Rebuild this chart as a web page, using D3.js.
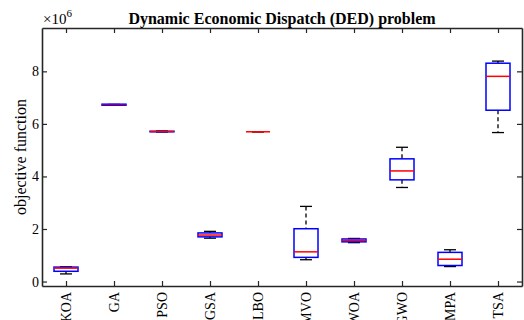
<!DOCTYPE html>
<html>
<head>
<meta charset="utf-8">
<script src="https://cdn.jsdelivr.net/npm/d3@7"></script>
<style>
  body { margin: 0; background: #fff; }
  svg { display: block; }
  text { font-family: "Liberation Serif", "DejaVu Serif", serif; fill: #000; }
</style>
</head>
<body>
<svg id="chart" width="524" height="320"></svg>
<script>
// algorithms on the x axis
var methods = ["KOA", "GA", "PSO", "GSA", "TLBO", "MVO", "WOA", "GWO", "MPA", "TSA"];

// box statistics, in units of 1e6
var maxVals    = [0.56, 6.74, 5.73, 1.91, 5.70, 2.86, 1.64, 5.11, 1.21, 8.39];
var q3Vals     = [0.55, 6.75, 5.72, 1.85, 5.70, 2.01, 1.62, 4.67, 1.11, 8.31];
var medianVals = [0.51, 6.73, 5.71, 1.77, 5.70, 1.13, 1.57, 4.21, 0.85, 7.81];
var q1Vals     = [0.39, 6.71, 5.70, 1.70, 5.70, 0.92, 1.51, 3.87, 0.61, 6.52];
var minVals    = [0.29, 6.72, 5.69, 1.65, 5.70, 0.83, 1.48, 3.58, 0.57, 5.67];

var yTicks = [0, 2, 4, 6, 8];

var svg = d3.select("#chart"),
    margin = {top: 28, right: 2, bottom: 34, left: 42},
    width = +svg.attr("width") - margin.left - margin.right,
    height = +svg.attr("height") - margin.top - margin.bottom;

var data = methods.map(function(m, i) {
    return {name: m, idx: i + 1, max: maxVals[i], q3: q3Vals[i], med: medianVals[i], q1: q1Vals[i], min: minVals[i]};
});

var x = d3.scaleLinear().domain([0.5, methods.length + 0.5]).range([0, width]);
var y = d3.scaleLinear().domain([-0.17, 9.65]).range([height, 0]);

var g = svg.append("g")
    .attr("transform", "translate(" + margin.left + "," + margin.top + ")");

var axisColor = "#262626";
var tickLen = 5;
var boxW = x(1.25) - x(1);   // half box width
var capW = boxW / 2;

// whiskers (dashed)
var box = g.selectAll(".box").data(data).enter().append("g").attr("class", "box");

box.append("line")
    .attr("x1", function(d) { return x(d.idx); })
    .attr("x2", function(d) { return x(d.idx); })
    .attr("y1", function(d) { return y(d.max); })
    .attr("y2", function(d) { return y(d.q3); })
    .attr("stroke", "#000").attr("stroke-width", 1.3).attr("stroke-dasharray", "4,3");

box.append("line")
    .attr("x1", function(d) { return x(d.idx); })
    .attr("x2", function(d) { return x(d.idx); })
    .attr("y1", function(d) { return y(d.q1); })
    .attr("y2", function(d) { return y(d.min); })
    .attr("stroke", "#000").attr("stroke-width", 1.3).attr("stroke-dasharray", "4,3");

// caps
["max", "min"].forEach(function(k) {
    box.append("line")
        .attr("x1", function(d) { return x(d.idx) - capW; })
        .attr("x2", function(d) { return x(d.idx) + capW; })
        .attr("y1", function(d) { return y(d[k]); })
        .attr("y2", function(d) { return y(d[k]); })
        .attr("stroke", "#000").attr("stroke-width", 1.3);
});

// boxes
box.append("rect")
    .attr("x", function(d) { return x(d.idx) - boxW; })
    .attr("width", boxW * 2)
    .attr("y", function(d) { return y(d.q3); })
    .attr("height", function(d) { return Math.max(0, y(d.q1) - y(d.q3)); })
    .attr("fill", "none").attr("stroke", "#0000ff").attr("stroke-width", 1.5);

// medians
box.append("line")
    .attr("x1", function(d) { return x(d.idx) - boxW; })
    .attr("x2", function(d) { return x(d.idx) + boxW; })
    .attr("y1", function(d) { return y(d.med); })
    .attr("y2", function(d) { return y(d.med); })
    .attr("stroke", "#ff0000").attr("stroke-width", 1.5)
    .attr("stroke-opacity", function(d) { return d.name === "GA" ? 0.5 : 1; });

// axes, MATLAB style: ticks pointing inward, box around
var xAxis = g.append("g")
    .attr("transform", "translate(0," + height + ")")
    .call(d3.axisBottom(x).tickValues(data.map(function(d) { return d.idx; }))
        .tickFormat(function(d) { return methods[d - 1]; })
        .tickSizeInner(-tickLen).tickSizeOuter(0).tickPadding(6));
xAxis.selectAll("text")
    .attr("transform", "rotate(-90)")
    .attr("text-anchor", "end")
    .attr("x", -6).attr("y", 0).attr("dy", "0.35em")
    .style("font-size", "14px");

var xTop = g.append("g")
    .call(d3.axisTop(x).tickValues(data.map(function(d) { return d.idx; }))
        .tickFormat("").tickSizeInner(-tickLen).tickSizeOuter(0));

var yAxis = g.append("g")
    .call(d3.axisLeft(y).tickValues(yTicks).tickFormat(d3.format("d"))
        .tickSizeInner(-tickLen).tickSizeOuter(0).tickPadding(3));
yAxis.selectAll("text").style("font-size", "14px");

var yRight = g.append("g")
    .attr("transform", "translate(" + width + ",0)")
    .call(d3.axisRight(y).tickValues(yTicks).tickFormat("")
        .tickSizeInner(-tickLen).tickSizeOuter(0));

[xAxis, xTop, yAxis, yRight].forEach(function(a) {
    a.attr("font-family", null);
    a.select(".domain").attr("stroke", axisColor).attr("stroke-width", 1.6);
    a.selectAll(".tick line").attr("stroke", axisColor).attr("stroke-width", 1.2);
});

// exponent label
var expo = svg.append("text")
    .attr("x", margin.left + 1)
    .attr("y", 24)
    .style("font-size", "15px");
expo.append("tspan").text("\u00d710");
expo.append("tspan").attr("dy", -7).style("font-size", "11px").text("6");

// title
svg.append("text")
    .attr("x", margin.left + width / 2)
    .attr("y", 24)
    .attr("text-anchor", "middle")
    .style("font-size", "16px")
    .style("font-weight", "bold")
    .text("Dynamic Economic Dispatch (DED) problem");

// y label
svg.append("text")
    .attr("transform", "translate(26," + (margin.top + height / 2) + ") rotate(-90)")
    .attr("text-anchor", "middle")
    .style("font-size", "16px")
    .text("objective function");
</script>
</body>
</html>
